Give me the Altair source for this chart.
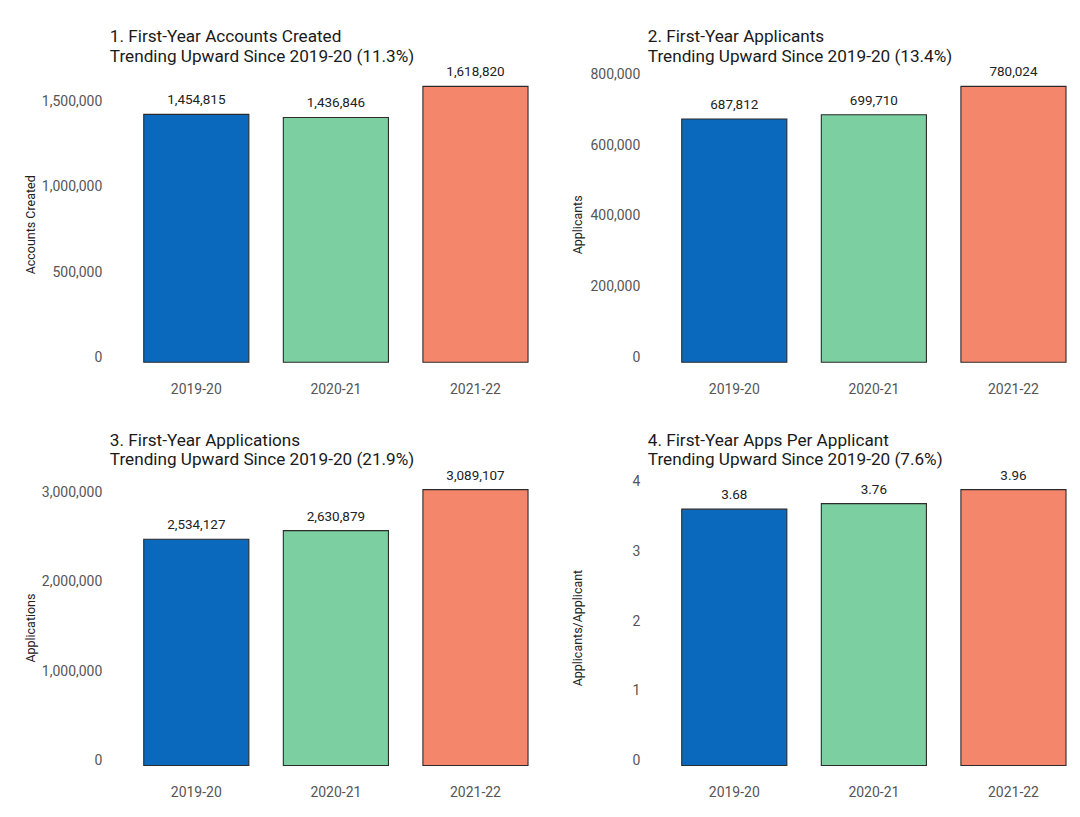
import altair as alt
import pandas as pd

years = ["2019-20", "2020-21", "2021-22"]
accounts = [1454815, 1436846, 1618820]
applicants = [687812, 699710, 780024]
applications = [2534127, 2630879, 3089107]
apps_per_applicant = [3.68, 3.76, 3.96]
bar_colors = ["#0b69bd", "#7bcfa1", "#f4866b"]

ticks_accounts = [0, 500000, 1000000, 1500000]
ticks_applicants = [0, 200000, 400000, 600000, 800000]
ticks_applications = [0, 1000000, 2000000, 3000000]
ticks_ratio = [0, 1, 2, 3, 4]

title1 = ["1. First-Year Accounts Created", "Trending Upward Since 2019-20 (11.3%)"]
title2 = ["2. First-Year Applicants", "Trending Upward Since 2019-20 (13.4%)"]
title3 = ["3. First-Year Applications", "Trending Upward Since 2019-20 (21.9%)"]
title4 = ["4. First-Year Apps Per Applicant", "\u2004Trending Upward Since 2019-20 (7.6%)"]

FONT = "Roboto"
W, H = 385, 304


def panel(values, ytitle, title_lines, ticks, fmt, title_x):
    df = pd.DataFrame({"year": years, "value": values})
    top = max(values)
    dom = [-0.05 * top, 1.05 * top]
    x = alt.X(
        "year:N", sort=years, title=None,
        scale=alt.Scale(paddingInner=0.247, paddingOuter=0),
        axis=alt.Axis(labelAngle=0, ticks=False, tickSize=0, domain=False, grid=False,
                      labelPadding=6, labelFontSize=14, labelColor="#555555", labelFont=FONT),
    )
    y = alt.Y(
        "value:Q", title=ytitle,
        scale=alt.Scale(domain=dom, nice=False, zero=False),
        axis=alt.Axis(values=ticks, format=fmt, ticks=False, tickSize=0, domain=False, grid=False,
                      labelPadding=42, labelOffset=-5, labelFontSize=14, labelColor="#555555",
                      labelFont=FONT, titleFont=FONT, titleFontSize=12.5, titleFontWeight="normal",
                      titleColor="#222222", titleX=title_x, titleBaseline="middle"),
    )
    base = alt.Chart(df)
    bars = base.mark_bar(stroke="#2b2b2b", strokeWidth=1.1).encode(
        x=x, y=y, y2=alt.datum(0),
        color=alt.Color("year:N", scale=alt.Scale(domain=years, range=bar_colors), legend=None),
    )
    labels = base.mark_text(baseline="bottom", dy=-7, fontSize=13.5, color="#222222", font=FONT).encode(
        x=alt.X("year:N", sort=years),
        y=alt.Y("value:Q"),
        text=alt.Text("value:Q", format=fmt if fmt != "d" else ".2f"),
    )
    return alt.layer(bars, labels).properties(
        width=W, height=H,
        title=alt.Title(text=title_lines, anchor="start", frame="group", dx=-34, fontSize=17.2,
                        font=FONT, fontWeight="normal", color="#1a1a1a", lineHeight=20, offset=0),
    )


p1 = panel(accounts, "Accounts Created", title1, ticks_accounts, ",d", -113.5)
p2 = panel(applicants, "Applicants", title2, ticks_applicants, ",d", -104)
p3 = panel(applications, "Applications", title3, ticks_applications, ",d", -113.5)
p4 = panel(apps_per_applicant, "Applicants/Applicant", title4, ticks_ratio, "d", -104)

chart = alt.vconcat(
    alt.hconcat(p1, p2, spacing=43),
    alt.hconcat(p3, p4, spacing=43),
    spacing=35,
).configure_view(stroke=None).properties(
    padding={"left": 16, "top": 19, "right": 5, "bottom": 5},
    background="white",
)

chart.save("out.html", embed_options={"renderer": "svg", "actions": False})
